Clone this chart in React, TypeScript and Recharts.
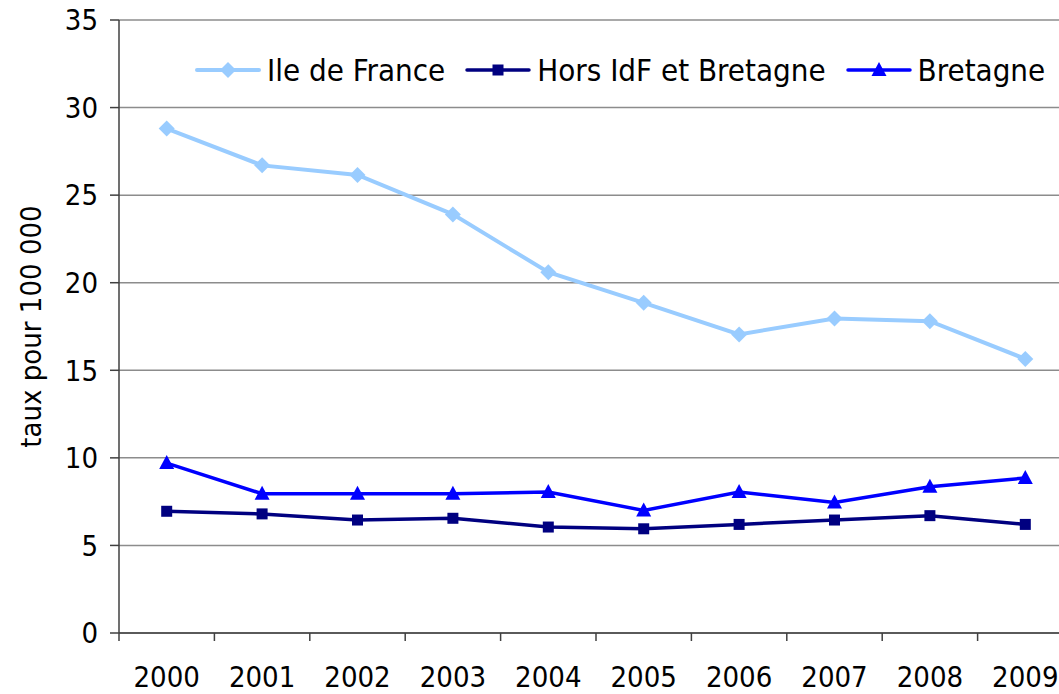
import { LineChart, Line, XAxis, YAxis, CartesianGrid } from "recharts";

const years = ["2000", "2001", "2002", "2003", "2004", "2005", "2006", "2007", "2008", "2009"];
const ileDeFrance = [28.8, 26.7, 26.15, 23.9, 20.6, 18.85, 17.05, 17.95, 17.8, 15.65];
const horsIdf = [6.95, 6.8, 6.45, 6.55, 6.05, 5.95, 6.2, 6.45, 6.7, 6.2];
const bretagne = [9.7, 7.95, 7.95, 7.95, 8.05, 7.0, 8.05, 7.45, 8.35, 8.85];
const yTicks = [0, 5, 10, 15, 20, 25, 30, 35];

const data = years.map((year, i) => ({
  year,
  idf: ileDeFrance[i],
  hors: horsIdf[i],
  bret: bretagne[i],
}));

const FONT = "'DejaVu Sans Condensed', 'DejaVu Sans', sans-serif";
const C_IDF = "#99ccff";
const C_HORS = "#000080";
const C_BRET = "#0000ff";

type Shape = "diamond" | "square" | "triangle";

function marker(shape: Shape, cx: number, cy: number, color: string, key?: string | number) {
  if (shape === "diamond") {
    return <path key={key} d={`M${cx} ${cy - 8}L${cx + 8} ${cy}L${cx} ${cy + 8}L${cx - 8} ${cy}Z`} fill={color} />;
  }
  if (shape === "square") {
    return <rect key={key} x={cx - 5.5} y={cy - 5.5} width={11} height={11} fill={color} />;
  }
  return <path key={key} d={`M${cx} ${cy - 8}L${cx + 7.5} ${cy + 6}L${cx - 7.5} ${cy + 6}Z`} fill={color} />;
}

const makeDot = (shape: Shape, color: string) => (props: any) =>
  marker(shape, props.cx, props.cy, color, props.index);

const legendItems: { label: string; color: string; shape: Shape; width: number }[] = [
  { label: "Ile de France", color: C_IDF, shape: "diamond", width: 4 },
  { label: "Hors IdF et Bretagne", color: C_HORS, shape: "square", width: 3.5 },
  { label: "Bretagne", color: C_BRET, shape: "triangle", width: 3.5 },
];

// légende posée en absolu au-dessus du graphe (ne réserve pas de place dans la zone de tracé)
function ChartLegend() {
  return (
    <div
      style={{
        position: "absolute",
        left: 195,
        top: 52,
        display: "flex",
        alignItems: "center",
        fontFamily: FONT,
        fontSize: 31,
        lineHeight: "36px",
        color: "#000",
        whiteSpace: "nowrap",
      }}
    >
      {legendItems.map((it) => (
        <div key={it.label} style={{ display: "flex", alignItems: "center", marginRight: 20 }}>
          <svg width={66} height={20} style={{ marginRight: 6 }}>
            <line x1={2} y1={10} x2={64} y2={10} stroke={it.color} strokeWidth={it.width} strokeLinecap="round" />
            {marker(it.shape, 33, 10, it.color)}
          </svg>
          <span>{it.label}</span>
        </div>
      ))}
    </div>
  );
}

function YearTick(props: any) {
  const { x, y, width, payload } = props;
  const band = width / years.length;
  return (
    <g>
      <line x1={x - band / 2} y1={y} x2={x - band / 2} y2={y + 8} stroke="#404040" strokeWidth={1.5} />
      <text x={x} y={y + 54} textAnchor="middle" fontFamily={FONT} fontSize={29} fill="#000">
        {payload.value}
      </text>
    </g>
  );
}

function YLabel(props: any) {
  const vb = props.viewBox ?? {};
  const lx = 33;
  const ly = (vb.y ?? 0) + (vb.height ?? 0) / 2;
  return (
    <text x={lx} y={ly} textAnchor="middle" dominantBaseline="middle" fontFamily={FONT} fontSize={29} fill="#000"
      transform={`rotate(-90 ${lx} ${ly})`}>
      taux pour 100 000
    </text>
  );
}

export default function App() {
  return (
    <div style={{ position: "absolute", left: 0, top: 0, width: 1059, height: 694, overflow: "hidden", background: "#fff" }}>
      <LineChart width={1080} height={694} data={data} margin={{ top: 20, right: 7, left: 0, bottom: 0 }}>
        <CartesianGrid stroke="#8c8c8c" strokeWidth={1.5} vertical={false} />
        <XAxis
          dataKey="year"
          height={61}
          padding={{ left: 47.7, right: 47.7 }}
          tickLine={false}
          tickSize={0}
          tickMargin={0}
          axisLine={{ stroke: "#404040", strokeWidth: 1.5 }}
          tick={<YearTick />}
          interval={0}
        />
        <YAxis
          width={119}
          domain={[0, 35]}
          ticks={yTicks}
          tickSize={9}
          tickMargin={12}
          axisLine={{ stroke: "#404040", strokeWidth: 1.5 }}
          tickLine={{ stroke: "#404040", strokeWidth: 1.5 }}
          tick={{ fontFamily: FONT, fontSize: 29, fill: "#000" }}
          label={<YLabel />}
        />
        <Line dataKey="idf" stroke={C_IDF} strokeWidth={4} dot={makeDot("diamond", C_IDF)} isAnimationActive={false} />
        <Line dataKey="hors" stroke={C_HORS} strokeWidth={3.5} dot={makeDot("square", C_HORS)} isAnimationActive={false} />
        <Line dataKey="bret" stroke={C_BRET} strokeWidth={3.5} dot={makeDot("triangle", C_BRET)} isAnimationActive={false} />
      </LineChart>
      <ChartLegend />
    </div>
  );
}
